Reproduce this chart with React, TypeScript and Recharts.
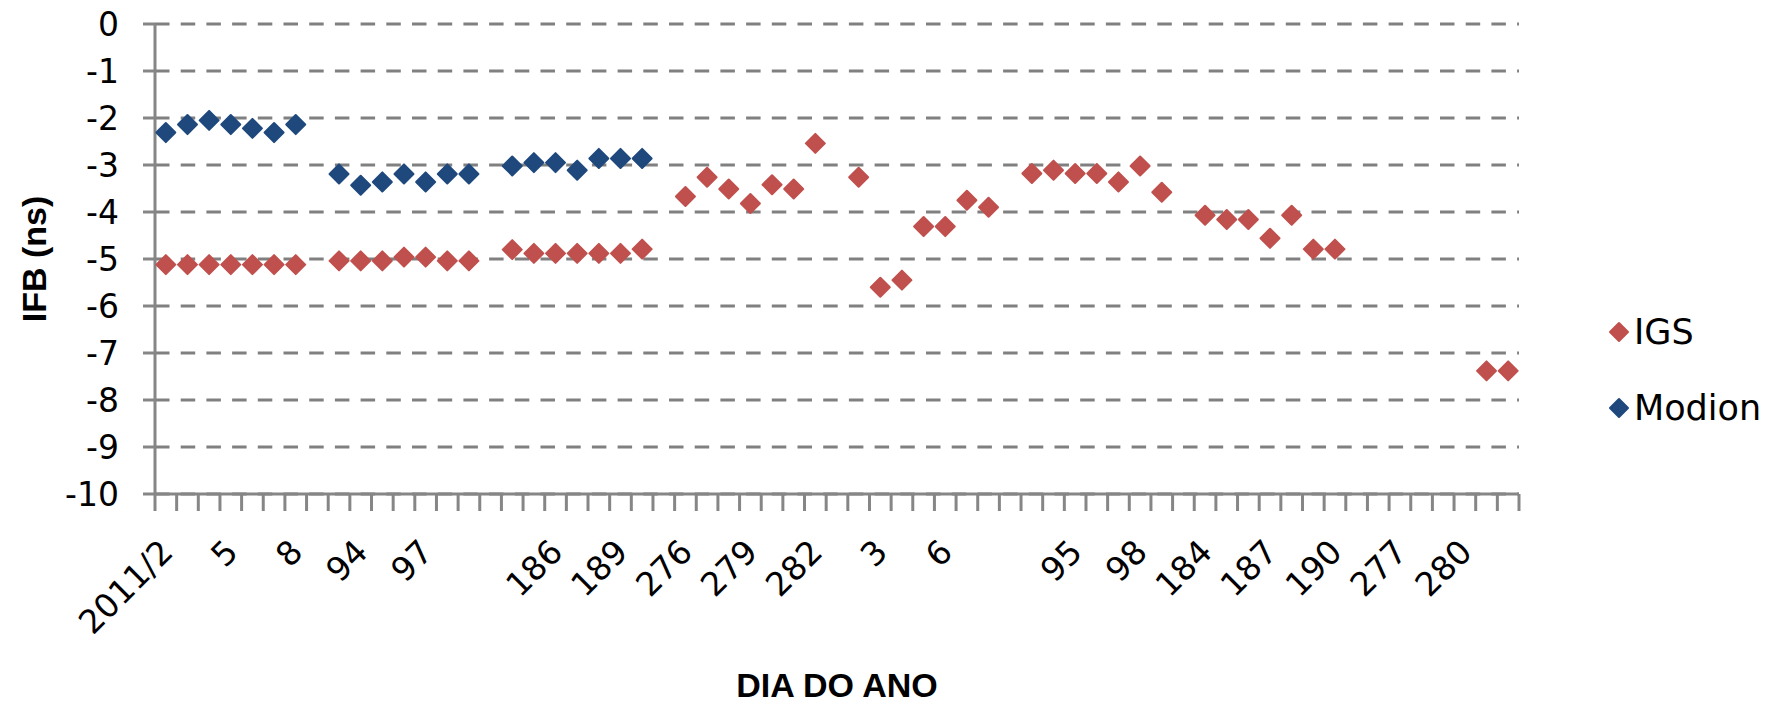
import { ComposedChart, Line, XAxis, YAxis, CartesianGrid } from "recharts";

// day-of-year categories; "" marks the empty slot between campaigns
const days = [
  "2011/2", "3", "4", "5", "6", "7", "8", "",
  "93", "94", "95", "96", "97", "98", "99", "",
  "184", "185", "186", "187", "188", "189", "190", "",
  "276", "277", "278", "279", "280", "281", "282", "",
  "2012/2", "3", "4", "5", "6", "7", "8", "",
  "93", "94", "95", "96", "97", "98", "99", "",
  "184", "185", "186", "187", "188", "189", "190", "",
  "276", "277", "278", "279", "280", "281", "282",
];

const igs = [
  -5.12, -5.12, -5.12, -5.12, -5.12, -5.12, -5.12, null,
  -5.04, -5.04, -5.04, -4.96, -4.96, -5.04, -5.04, null,
  -4.8, -4.88, -4.88, -4.88, -4.88, -4.88, -4.79, null,
  -3.67, -3.26, -3.51, -3.82, -3.42, -3.51, -2.54, null,
  -3.26, -5.6, -5.45, -4.31, -4.31, -3.75, -3.9, null,
  -3.18, -3.11, -3.18, -3.18, -3.36, -3.02, -3.58, null,
  -4.07, -4.16, -4.16, -4.56, -4.07, -4.79, -4.79, null,
  null, null, null, null, null, -7.38, -7.38,
];

const modion = [
  -2.31, -2.14, -2.05, -2.14, -2.22, -2.31, -2.14, null,
  -3.19, -3.43, -3.36, -3.19, -3.36, -3.19, -3.19, null,
  -3.02, -2.95, -2.95, -3.11, -2.86, -2.86, -2.86, null,
  null, null, null, null, null, null, null, null,
  null, null, null, null, null, null, null, null,
  null, null, null, null, null, null, null, null,
  null, null, null, null, null, null, null, null,
  null, null, null, null, null, null, null,
];

const yTicks = [0, -1, -2, -3, -4, -5, -6, -7, -8, -9, -10];

const rows = days.map((day, i) => ({ day, igs: igs[i], modion: modion[i] }));

const W = 1786;
const H = 704;
const MARGIN = { top: 24, right: 267, bottom: 0, left: 0 };
const Y_AXIS_W = 155;
const X_AXIS_H = 210;
const BAND = (W - MARGIN.left - MARGIN.right - Y_AXIS_W) / days.length;

const RED = "#C0504D";
const BLUE = "#1F497D";
const AXIS = "#868686";
const TICK_FONT = "'DejaVu Sans', Verdana, sans-serif";
const TITLE_FONT = "'Liberation Sans', Arial, sans-serif";

const diamond = (color: string, r = 9.5) => (props: any) => {
  const { cx, cy, index } = props;
  if (cx == null || cy == null || props.value == null) return <g key={index} />;
  return (
    <path
      key={index}
      d={`M${cx},${cy - r}L${cx + r},${cy}L${cx},${cy + r}L${cx - r},${cy}Z`}
      fill={color}
      stroke={color}
      strokeWidth={2}
      strokeLinejoin="round"
    />
  );
};

// tick marks sit between categories (Excel style), labels every 3rd category
const DayTick = (props: any) => {
  const { x, y, payload, index } = props;
  const half = BAND / 2;
  const lx = x + 9;
  const ly = y + 60;
  return (
    <g>
      <line x1={x - half} x2={x - half} y1={y} y2={y + 17} stroke={AXIS} strokeWidth={3} />
      {index === days.length - 1 && (
        <line x1={x + half} x2={x + half} y1={y} y2={y + 17} stroke={AXIS} strokeWidth={3} />
      )}
      {index % 3 === 0 && payload.value !== "" && (
        <text
          x={lx}
          y={ly}
          textAnchor="end"
          transform={`rotate(-45 ${lx} ${ly})`}
          fontSize={33}
          fontFamily={TICK_FONT}
          fill="#000"
        >
          {payload.value}
        </text>
      )}
    </g>
  );
};

const xTitle = ({ viewBox }: any) => (
  <text
    x={viewBox.x + viewBox.width / 2}
    y={viewBox.y + 203}
    textAnchor="middle"
    fontSize={34}
    fontWeight="bold"
    fontFamily={TITLE_FONT}
    fill="#000"
  >
    DIA DO ANO
  </text>
);

const yTitle = ({ viewBox }: any) => {
  const cx = 34;
  const cy = viewBox.y + viewBox.height / 2;
  return (
    <text
      x={cx}
      y={cy}
      dy="0.36em"
      textAnchor="middle"
      transform={`rotate(-90 ${cx} ${cy})`}
      fontSize={34}
      fontWeight="bold"
      fontFamily={TITLE_FONT}
      fill="#000"
    >
      IFB (ns)
    </text>
  );
};

const LegendItem = ({ color, name, top }: { color: string; name: string; top: number }) => (
  <div style={{ position: "absolute", left: 1608, top, height: 40, display: "flex", alignItems: "center" }}>
    <svg width={22} height={22}>
      <path d="M11,2L20,11L11,20L2,11Z" fill={color} stroke={color} strokeWidth={2} strokeLinejoin="round" />
    </svg>
    <span style={{ marginLeft: 4, fontSize: 35, fontFamily: TICK_FONT, color: "#000", lineHeight: "40px" }}>
      {name}
    </span>
  </div>
);

export default function App() {
  return (
    <div style={{ position: "relative", width: W, height: H, background: "#fff" }}>
      <style>{"body{margin:0}"}</style>
      <ComposedChart width={W} height={H} data={rows} margin={MARGIN}>
        <CartesianGrid vertical={false} stroke="#808080" strokeWidth={3} strokeDasharray="14.5 11.2" />
        <XAxis
          dataKey="day"
          interval={0}
          padding={{ left: BAND / 2, right: BAND / 2 }}
          height={X_AXIS_H}
          tickSize={0}
          tickMargin={0}
          tickLine={false}
          axisLine={{ stroke: AXIS, strokeWidth: 3 }}
          tick={DayTick}
          label={xTitle}
        />
        <YAxis
          domain={[-10, 0]}
          ticks={yTicks}
          interval={0}
          width={Y_AXIS_W}
          tickSize={12}
          tickMargin={24}
          tickLine={{ stroke: AXIS, strokeWidth: 3 }}
          axisLine={{ stroke: AXIS, strokeWidth: 3 }}
          tick={{ fill: "#000", fontSize: 33, fontFamily: TICK_FONT }}
          label={yTitle}
        />
        <Line
          dataKey="igs"
          name="IGS"
          stroke="none"
          dot={diamond(RED)}
          activeDot={false}
          isAnimationActive={false}
        />
        <Line
          dataKey="modion"
          name="Modion"
          stroke="none"
          dot={diamond(BLUE)}
          activeDot={false}
          isAnimationActive={false}
        />
      </ComposedChart>
      <LegendItem color={RED} name="IGS" top={312} />
      <LegendItem color={BLUE} name="Modion" top={388} />
    </div>
  );
}
